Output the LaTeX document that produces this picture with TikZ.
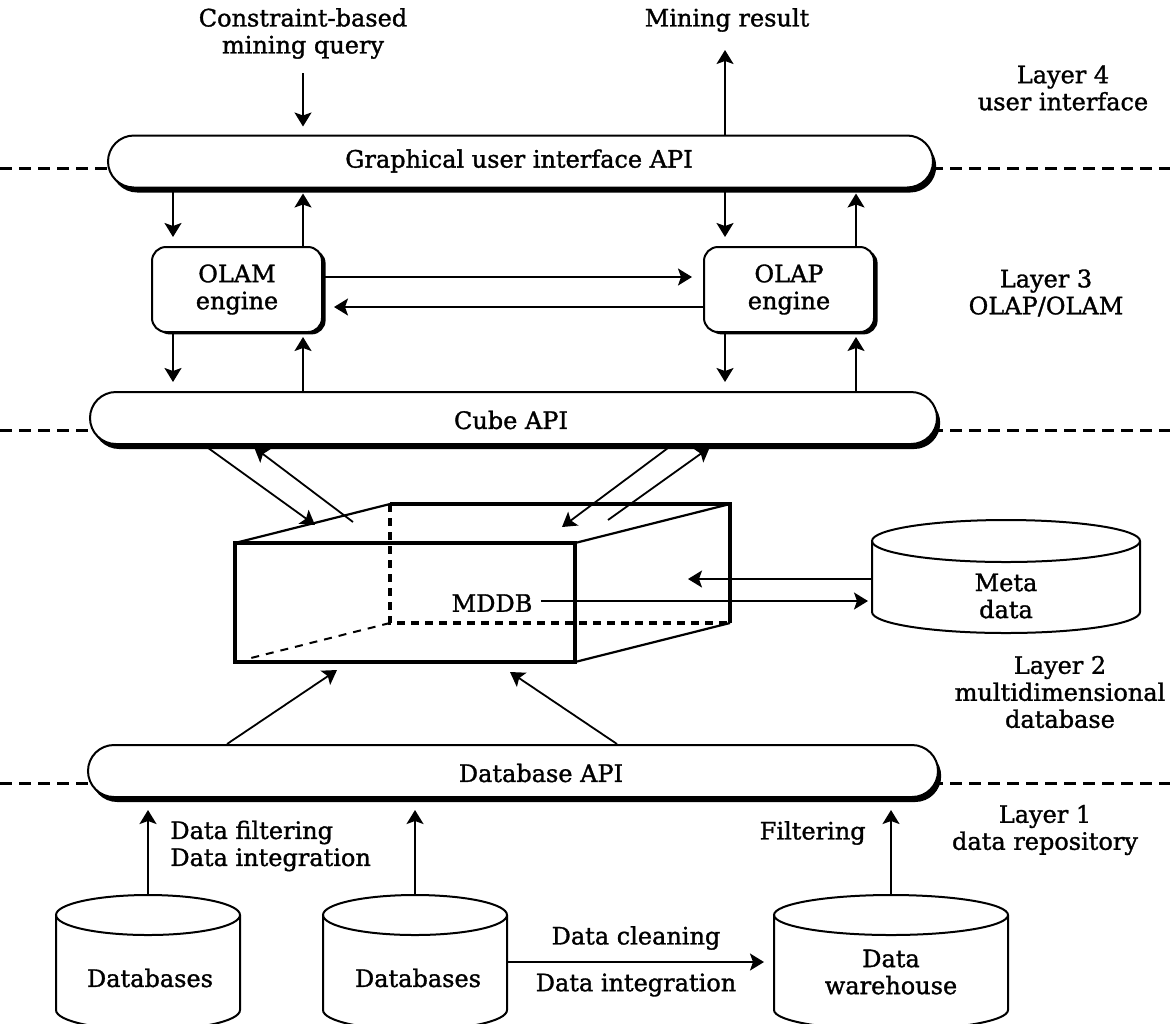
\documentclass[tikz,border=0pt]{standalone}
\usepackage{fontspec}
\setmainfont[FakeBold=1.3]{DejaVu Serif}
\usetikzlibrary{arrows.meta,shadows}

% cylinder: name, centre x, top-rim y, bottom-rim y, x radius, y radius
\newcommand{\drum}[6]{%
  \draw[drumline] (#2-#5,#3) -- (#2-#5,#4)
    arc[start angle=180,end angle=0,x radius=#5,y radius=#6] -- (#2+#5,#3);
  \draw[drumline] (#2,#3) ellipse[x radius=#5,y radius=#6];
  \coordinate (#1-top) at (#2,#3-#6);
  \coordinate (#1-w) at (#2-#5,#3);
  \coordinate (#1-e) at (#2+#5,#3);
}

\begin{document}
\begin{tikzpicture}[x=0.5pt,y=-0.5pt,
  txt/.style={font=\fontsize{12pt}{13.5pt}\selectfont, align=center, inner sep=0pt},
  arr/.style={line width=0.9pt, -{Stealth[length=7pt,width=8.5pt,inset=1.5pt]}},
  layerline/.style={line width=1.5pt, dash pattern=on 6pt off 3.5pt},
  apibar/.style={draw, line width=1pt, fill=white, rounded corners=13pt, inner sep=0pt,
     minimum height=26pt,
     drop shadow={shadow xshift=1.6pt, shadow yshift=-2.5pt, fill=black, opacity=1}},
  engine/.style={draw, line width=1pt, fill=white, rounded corners=7pt, inner sep=0pt,
     minimum width=85pt, minimum height=42.5pt, align=center,
     font=\fontsize{12pt}{13.5pt}\selectfont,
     drop shadow={shadow xshift=1.8pt, shadow yshift=-1.2pt, fill=black, opacity=1}},
  drumline/.style={line width=1pt},
  cubefront/.style={line width=2pt, line join=miter},
  cubeback/.style={line width=1.6pt},
  cubeedge/.style={line width=1.1pt},
  cubedash/.style={line width=1.6pt, dash pattern=on 4pt off 3pt},
  cubedashthin/.style={line width=1pt, dash pattern=on 4pt off 3.5pt},
]
\useasboundingbox (0,0) rectangle (1170,1023);
\clip (0,0) rectangle (1170,1023);

% layer separators
\coordinate (l4w) at (0,168);  \coordinate (l4e) at (1170,168);
\coordinate (l3w) at (0,430);  \coordinate (l3e) at (1170,430);
\coordinate (l1w) at (0,783);  \coordinate (l1e) at (1170,783);
\draw[layerline] (l4w) -- (l4e);
\draw[layerline] (l3w) -- (l3e);
\draw[layerline] (l1w) -- (l1e);

% API bars
\node[apibar, minimum width=412.5pt] (gui) at (520.5,161.5) {};
\node[apibar, minimum width=423.5pt] (cubeapi) at (513.5,418) {};
\node[apibar, minimum width=425pt] (dbapi) at (513,771) {};
\node[txt] (guitxt) at (519,161) {Graphical user interface API};
\node[txt] (cubetxt) at (511,420) {Cube API};
\node[txt] (dbtxt) at (541,773) {Database API};

% layer 4: query and result
\node[txt] (query) at (303,33.5) {Constraint-based\\mining query};
\node[txt] (result) at (727,20) {Mining result};
\coordinate (qs) at (303,73);
\coordinate (rs) at (725,50);
\draw[arr, shorten >=4pt] (qs) -- (qs |- gui.north);
\draw[arr] (gui.north -| rs) -- (rs);

% layer captions
\node[txt] (lay4) at (1063,88) {Layer 4\\user interface};
\node[txt] (lay3) at (1046,293) {Layer 3\\OLAP/OLAM};
\node[txt] (lay2) at (1060,692) {Layer 2\\multidimensional\\database};
\node[txt] (lay1) at (1045,830) {Layer 1\\data repository};

% layer 3: engines
\node[engine] (olam) at (237,289.5) {OLAM\\engine};
\node[engine] (olap) at (789,289.5) {OLAP\\engine};

\coordinate (ca) at (173,0);
\coordinate (cb) at (303,0);
\coordinate (cc) at (725,0);
\coordinate (cd) at (856,0);
\draw[arr, shorten >=4.5pt] (gui.south -| ca) -- (olam.north -| ca);
\draw[arr, shorten >=2.5pt] (olam.north -| cb) -- (gui.south -| cb);
\draw[arr, shorten >=4.5pt] (gui.south -| cc) -- (olap.north -| cc);
\draw[arr, shorten >=2.5pt] (olap.north -| cd) -- (gui.south -| cd);
\draw[arr, shorten >=4.5pt] (olam.south -| ca) -- (cubeapi.north -| ca);
\draw[arr, shorten >=2pt] (cubeapi.north -| cb) -- (olam.south -| cb);
\draw[arr, shorten >=4.5pt] (olap.south -| cc) -- (cubeapi.north -| cc);
\draw[arr, shorten >=2pt] (cubeapi.north -| cd) -- (olap.south -| cd);

\coordinate (ra) at (0,277);
\coordinate (rb) at (0,307);
\draw[arr, shorten >=5.5pt] (olam.east |- ra) -- (olap.west |- ra);
\draw[arr, shorten >=5.5pt] (olap.west |- rb) -- (olam.east |- rb);

% layer 2: the MDDB cube
\coordinate (ftl) at (235,543);  \coordinate (ftr) at (575,543);
\coordinate (fbr) at (575,662);  \coordinate (fbl) at (235,662);
\coordinate (btl) at (390,504);  \coordinate (btr) at (730,504);
\coordinate (bbr) at (730,623);  \coordinate (bbl) at (390,623);
\draw[cubedash] (btl) -- (bbl) -- (bbr);
\draw[cubedashthin, shorten >=7pt] (bbl) -- (fbl);
\draw[cubeedge] (ftl) -- (btl);
\draw[cubeedge] (ftr) -- (btr);
\draw[cubeedge] (fbr) -- (bbr);
\draw[cubeback] (btl) -- (btr) -- (bbr);
\draw[cubefront] (ftl) rectangle (fbr);
\node[txt] (mddb) at (492,603) {MDDB};

% cube <-> Cube API
\coordinate (s1) at (204,0);  \coordinate (u1) at (315,525);
\coordinate (s2) at (251,0);  \coordinate (u2) at (353,522);
\coordinate (s3) at (672,0);  \coordinate (u3) at (562,527);
\coordinate (s4) at (713,0);  \coordinate (u4) at (608,520);
\draw[arr] (cubeapi.south -| s1) -- (u1);
\draw[arr, shorten >=2pt] (u2) -- (cubeapi.south -| s2);
\draw[arr] (cubeapi.south -| s3) -- (u3);
\draw[arr, shorten >=2pt] (u4) -- (cubeapi.south -| s4);

% Database API -> cube
\coordinate (e1) at (227,0);  \coordinate (d1) at (337,670);
\coordinate (e2) at (617,0);  \coordinate (d2) at (510,672);
\draw[arr] (dbapi.north -| e1) -- (d1);
\draw[arr] (dbapi.north -| e2) -- (d2);

% meta data
\drum{meta}{1006}{541}{612}{134}{21}
\node[txt] (metatxt) at (1006,596) {Meta\\data};
\coordinate (mu) at (688,579);
\coordinate (ml) at (0,601);
\draw[arr] (meta-w |- mu) -- (mu);
\draw[arr, shorten <=4pt, shorten >=2pt] (mddb.east |- ml) -- (meta-w |- ml);

% layer 1: data repository
\drum{dba}{148}{915}{1010}{92}{20}
\drum{dbb}{415}{915}{1010}{92}{20}
\drum{dwh}{891}{915}{1010}{117}{20}
\node[txt] (dbatxt) at (150,978) {Databases};
\node[txt] (dbbtxt) at (418,978) {Databases};
\node[txt] (dwhtxt) at (891,972) {Data\\warehouse};

\draw[arr, shorten >=6pt] (dba-top) -- (dba-top |- dbapi.south);
\draw[arr, shorten >=6pt] (dbb-top) -- (dbb-top |- dbapi.south);
\draw[arr, shorten >=6pt] (dwh-top) -- (dwh-top |- dbapi.south);

\node[txt, align=left, anchor=west] (filt1) at (170,846) {Data filtering\\Data integration};
\node[txt, anchor=east] (filt2) at (866,833) {Filtering};
\node[txt] (clean) at (636,938) {Data cleaning};
\node[txt] (integ) at (636,985) {Data integration};
\coordinate (rc) at (0,962);
\draw[arr, shorten >=5pt] (dbb-e |- rc) -- (dwh-w |- rc);
\end{tikzpicture}
\end{document}
